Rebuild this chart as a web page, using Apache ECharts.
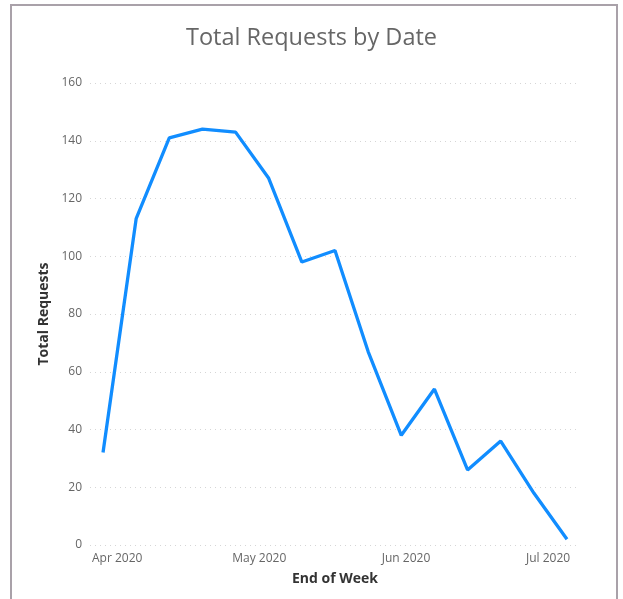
<!DOCTYPE html>
<html>
<head>
<meta charset="utf-8">
<script src="https://cdn.jsdelivr.net/npm/echarts@6/dist/echarts.min.js"></script>
<style>
  html, body { margin: 0; padding: 0; background: #ffffff; }
  #chart { width: 623px; height: 599px; }
</style>
</head>
<body>
<div id="chart"></div>
<script>
// Weekly totals, keyed by the week-ending date
const weekEnding = [
  '2020-03-29', '2020-04-05', '2020-04-12', '2020-04-19', '2020-04-26',
  '2020-05-03', '2020-05-10', '2020-05-17', '2020-05-24', '2020-05-31',
  '2020-06-07', '2020-06-14', '2020-06-21', '2020-06-28', '2020-07-05'
];
const totalRequests = [32, 113, 141, 144, 143, 127, 98, 102, 67, 38, 54, 26, 36, 18, 2];

const chartTitle = 'Total Requests by Date';
const xAxisTitle = 'End of Week';
const yAxisTitle = 'Total Requests';

const DAY = 86400000;
const seriesData = weekEnding.map((d, i) => [d, totalRequests[i]]);

const chart = echarts.init(document.getElementById('chart'));
chart.setOption({
  animation: false,
  backgroundColor: '#ffffff',
  title: {
    text: chartTitle,
    left: 'center',
    top: 21,
    textStyle: {
      fontFamily: 'Open Sans',
      fontWeight: 'normal',
      fontSize: 23.5,
      color: '#666666'
    }
  },
  graphic: [{
    type: 'rect',
    shape: { x: 11, y: 5, width: 606, height: 620 },
    style: { fill: 'none', stroke: '#a9a1a9', lineWidth: 2 },
    silent: true
  }],
  grid: { left: 90, right: 43, top: 83, bottom: 54 },
  xAxis: {
    type: 'time',
    min: new Date('2020-03-29').getTime() - 2.75 * DAY,
    max: new Date('2020-07-05').getTime() + 2.75 * DAY,
    minInterval: 28 * DAY,
    maxInterval: 31 * DAY,
    name: xAxisTitle,
    nameLocation: 'middle',
    nameGap: 27,
    nameTextStyle: {
      fontFamily: 'Open Sans',
      fontWeight: 'bold',
      fontSize: 14,
      color: '#333333'
    },
    axisLine: { show: false },
    axisTick: { show: false },
    splitLine: { show: false },
    axisLabel: {
      formatter: '{MMM} {yyyy}',
      showMinLabel: false,
      showMaxLabel: false,
      margin: 8,
      fontFamily: 'Open Sans',
      fontSize: 12,
      color: '#666666',
      fontWeight: 'normal',
      rich: {}
    }
  },
  yAxis: {
    type: 'value',
    min: 0,
    max: 160,
    interval: 20,
    name: yAxisTitle,
    nameLocation: 'middle',
    nameGap: 37,
    nameTextStyle: {
      fontFamily: 'Open Sans',
      fontWeight: 'bold',
      fontSize: 14,
      color: '#333333'
    },
    axisLine: { show: false },
    axisTick: { show: false },
    axisLabel: {
      margin: 8,
      fontFamily: 'Open Sans',
      fontSize: 12,
      color: '#666666'
    },
    splitLine: {
      show: true,
      lineStyle: { color: '#d6d6d6', type: [1, 4], width: 1 }
    }
  },
  series: [{
    type: 'line',
    data: seriesData,
    symbol: 'none',
    lineStyle: { color: '#118DFF', width: 3.3 },
    itemStyle: { color: '#118DFF' }
  }]
});
</script>
</body>
</html>
